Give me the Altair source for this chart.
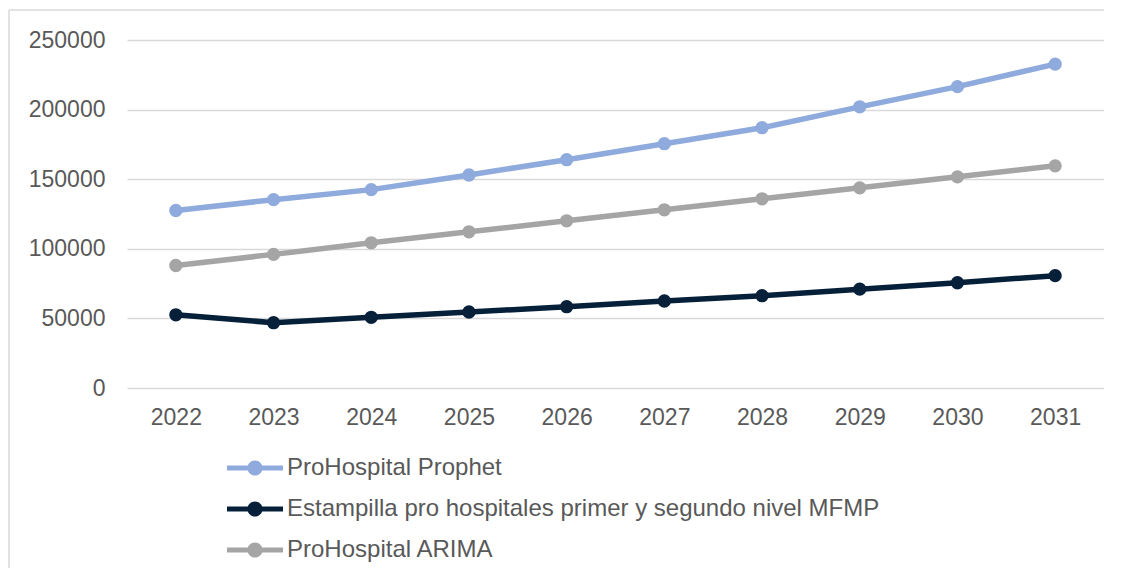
import altair as alt
import pandas as pd

years = ["2022", "2023", "2024", "2025", "2026", "2027", "2028", "2029", "2030", "2031"]
series_names = [
    "ProHospital Prophet",
    "Estampilla pro hospitales primer y segundo nivel MFMP",
    "ProHospital ARIMA",
]
prophet = [127500, 135300, 142500, 153000, 164000, 175500, 187000, 202000, 216500, 232700]
estampilla = [52600, 46900, 50800, 54600, 58400, 62500, 66300, 71000, 75600, 80700]
arima = [88000, 96000, 104300, 112200, 120100, 128000, 135900, 143800, 151700, 159600]
colors = ["#8FAADC", "#06203A", "#A5A5A5"]

rows = []
for name, vals in zip(series_names, [prophet, estampilla, arima]):
    for y, v in zip(years, vals):
        rows.append({"year": y, "value": v, "series": name})
df = pd.DataFrame(rows)

sym_path = ("M-1,-0.09H1V0.09H-1Z"
            "M0.27,0A0.27,0.27,0,1,1,-0.27,0A0.27,0.27,0,1,1,0.27,0Z")

legend = alt.Legend(
    title=None, orient="none", legendX=100, legendY=400, direction="vertical",
    symbolType=sym_path, symbolSize=3136, symbolStrokeWidth=0,
    labelFontSize=24, labelColor="#595959", labelFont="Liberation Sans",
    labelOffset=4, rowPadding=1, labelLimit=0,
)

color = alt.Color("series:N", scale=alt.Scale(domain=series_names, range=colors),
                  sort=series_names, legend=legend)
x = alt.X("year:O", scale=alt.Scale(type="point", padding=0.5),
          axis=alt.Axis(title=None, labelAngle=0, ticks=False, domain=False,
                        labelFontSize=23, labelColor="#595959", labelFont="Liberation Sans",
                        labelPadding=18, grid=False))
y = alt.Y("value:Q", scale=alt.Scale(domain=[0, 250000], nice=False),
          axis=alt.Axis(title=None, values=[0, 50000, 100000, 150000, 200000, 250000],
                        format="d", ticks=False, domain=False, gridColor="#D9D9D9",
                        gridWidth=1.5, labelFontSize=23, labelColor="#595959",
                        labelFont="Liberation Sans", labelPadding=22))

base = alt.Chart(df)
points = base.mark_point(filled=True, size=177, opacity=1).encode(x=x, y=y, color=color)
lines = base.mark_line(strokeWidth=5.5).encode(x=x, y=y, color=color)

frame_df = pd.DataFrame({"a": [0]})
top_edge = alt.Chart(frame_df).mark_rule(color="#D9D9D9", strokeWidth=1.5).encode(
    x=alt.value(-118), x2=alt.value(986), y=alt.value(-30))
left_edge = alt.Chart(frame_df).mark_rule(color="#D9D9D9", strokeWidth=1.5).encode(
    x=alt.value(-118), y=alt.value(-30), y2=alt.value(540))

chart = alt.layer(top_edge, left_edge, lines, points).properties(
    width=977, height=348,
    autosize=alt.AutoSizeParams(type="none"),
    padding={"left": 119, "top": 32, "right": 0, "bottom": 180},
).configure_view(stroke=None)

chart.save("out.html", embed_options={"renderer": "svg", "actions": False})
